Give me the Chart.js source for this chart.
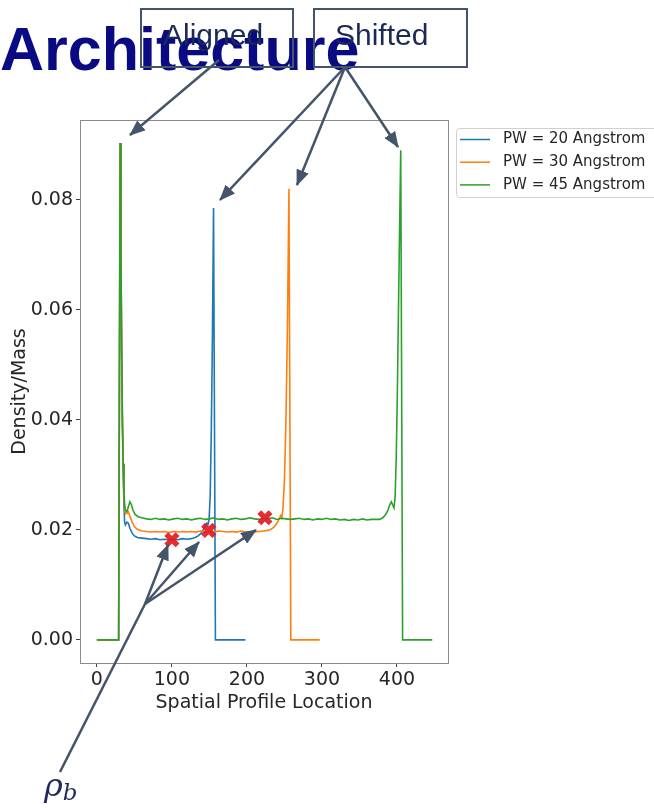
<!DOCTYPE html>
<html>
<head>
<meta charset="utf-8">
<script src="https://cdn.jsdelivr.net/npm/chart.js@4/dist/chart.umd.min.js"></script>
<style>
  html, body { margin: 0; padding: 0; background: #fff; overflow: hidden; }
  #wrap { position: relative; width: 654px; height: 808px; }
  #c { position: absolute; left: 0; top: 0; }
  #ov { position: absolute; left: 0; top: 0; pointer-events: none; }
</style>
</head>
<body>
<div id="wrap">
<canvas id="c" width="654" height="808"></canvas>
<svg id="ov" width="654" height="808" xmlns="http://www.w3.org/2000/svg">
  <defs>
    <marker id="ah" viewBox="0 0 16 13" refX="15" refY="6.5" markerWidth="16" markerHeight="13" markerUnits="userSpaceOnUse" orient="auto">
      <path d="M0,0 L16,6.5 L0,13 z" fill="#44546a"/>
    </marker>
  </defs>
  <text x="0" y="70" font-family="Liberation Sans, Arial, sans-serif" font-weight="bold" font-size="61" fill="#0a0a82">Architecture</text>
  <rect x="141" y="9" width="152" height="58" fill="none" stroke="#44546a" stroke-width="2"/>
  <rect x="314" y="9" width="153" height="58" fill="none" stroke="#44546a" stroke-width="2"/>
  <text x="163" y="45" font-family="Liberation Sans, Arial, sans-serif" font-size="30" fill="#1b2a55">Aligned</text>
  <text x="335" y="45" font-family="Liberation Sans, Arial, sans-serif" font-size="30" fill="#1b2a55">Shifted</text>
  <g stroke="#44546a" stroke-width="2.5" fill="none">
    <line x1="219" y1="60" x2="130" y2="135" marker-end="url(#ah)"/>
    <line x1="345" y1="67" x2="220" y2="200" marker-end="url(#ah)"/>
    <line x1="345" y1="67" x2="297" y2="185" marker-end="url(#ah)"/>
    <line x1="345" y1="67" x2="398" y2="147" marker-end="url(#ah)"/>
    <line x1="60" y1="772" x2="145" y2="604"/>
    <line x1="145" y1="604" x2="168" y2="545" marker-end="url(#ah)"/>
    <line x1="145" y1="604" x2="199" y2="542" marker-end="url(#ah)"/>
    <line x1="145" y1="604" x2="256" y2="530" marker-end="url(#ah)"/>
  </g>
  <text x="44" y="796" font-family="DejaVu Serif, serif" font-style="italic" font-size="32" fill="#1e2a5e">ρ<tspan font-size="23" dy="4">b</tspan></text>
</svg>
</div>
<script>
// ---- Data ----
const seriesLabels = ["PW = 20 Angstrom", "PW = 30 Angstrom", "PW = 45 Angstrom"];

const pw20X = [0, 29, 31, 32, 33, 34, 35, 36, 37, 38, 40, 42, 44, 47, 50, 54, 60, 66, 72, 78, 84, 90, 96, 102, 108, 114, 120, 126, 131, 135, 139, 142, 144.5, 146.5, 148, 149.5, 151, 152.5, 154, 155.5, 158, 198];
const pw20Y = [0, 0, 0.0903, 0.072, 0.053, 0.040, 0.032, 0.0245, 0.0214, 0.0209, 0.0214, 0.0212, 0.0203, 0.0194, 0.0189, 0.0186, 0.0185, 0.0184, 0.0183, 0.0184, 0.0182, 0.0183, 0.0182, 0.0183, 0.0182, 0.0184, 0.0183, 0.0184, 0.0186, 0.0189, 0.0194, 0.0201, 0.0208, 0.0212, 0.0209, 0.0218, 0.026, 0.038, 0.055, 0.0785, 0, 0];

const pw30X = [0, 29, 31, 32, 33, 34, 35, 36, 37, 38, 40, 42, 44, 47, 50, 54, 60, 66, 72, 78, 84, 90, 96, 102, 108, 114, 120, 126, 132, 138, 144, 150, 156, 162, 168, 174, 180, 186, 192, 198, 204, 210, 216, 222, 228, 232, 236, 240, 243, 245, 246.5, 248, 250, 252, 254, 256, 258.5, 297];
const pw30Y = [0, 0, 0.0903, 0.072, 0.053, 0.040, 0.032, 0.0262, 0.0238, 0.0229, 0.0230, 0.0233, 0.0225, 0.0214, 0.0206, 0.0201, 0.0198, 0.0197, 0.0196, 0.0197, 0.0196, 0.0197, 0.0195, 0.0197, 0.0196, 0.0197, 0.0196, 0.0197, 0.0196, 0.0198, 0.0196, 0.0197, 0.0196, 0.0198, 0.0197, 0.0196, 0.0197, 0.0196, 0.0198, 0.0196, 0.0197, 0.0196, 0.0197, 0.0198, 0.0199, 0.0201, 0.0205, 0.0212, 0.0220, 0.0226, 0.0222, 0.0238, 0.029, 0.040, 0.057, 0.082, 0, 0];

const pw45X = [0, 29, 31, 32, 33, 34, 35, 36, 37, 38, 40, 42, 44, 46, 48, 51, 55, 60, 66, 72, 78, 84, 90, 96, 102, 108, 114, 120, 126, 132, 138, 144, 150, 156, 162, 168, 174, 180, 186, 192, 198, 204, 210, 216, 222, 228, 234, 240, 246, 252, 258, 264, 270, 276, 282, 288, 294, 300, 306, 312, 318, 324, 330, 336, 342, 348, 354, 360, 366, 372, 377, 381, 385, 388, 390.5, 392.5, 394, 396, 397.5, 399, 400.5, 402, 403.5, 405, 407.5, 447];
const pw45Y = [0, 0, 0.0903, 0.072, 0.053, 0.040, 0.032, 0.027, 0.0245, 0.0236, 0.0233, 0.0242, 0.0251, 0.0246, 0.0236, 0.0228, 0.0224, 0.0222, 0.0220, 0.0219, 0.0221, 0.0219, 0.0220, 0.0218, 0.0220, 0.0221, 0.0219, 0.0220, 0.0218, 0.0220, 0.0221, 0.0219, 0.0220, 0.0222, 0.0219, 0.0220, 0.0218, 0.0220, 0.0221, 0.0219, 0.0220, 0.0222, 0.0220, 0.0219, 0.0221, 0.0220, 0.0222, 0.0219, 0.0221, 0.0220, 0.0219, 0.0220, 0.0221, 0.0219, 0.0220, 0.0218, 0.0220, 0.0219, 0.0221, 0.0219, 0.0220, 0.0218, 0.0219, 0.0217, 0.0219, 0.0218, 0.0220, 0.0218, 0.0219, 0.0219, 0.0219, 0.0222, 0.0228, 0.0236, 0.0246, 0.0251, 0.0246, 0.0240, 0.0260, 0.033, 0.045, 0.060, 0.075, 0.089, 0, 0];

// bulk density markers
const rhoBX = [100, 149, 224];
const rhoBY = [0.0182, 0.0199, 0.0222];

const xTickValues = [0, 100, 200, 300, 400];
const yTickValues = [0, 0.02, 0.04, 0.06, 0.08];

// ---- Build ----
const pts = (xs, ys) => xs.map((x, i) => ({ x: x, y: ys[i] }));
const colors = ['#1f77b4', '#ff7f0e', '#2ca02c'];

const frame = {
  id: 'frame',
  afterDraw(chart) {
    const { ctx, chartArea: a } = chart;
    ctx.save();
    ctx.strokeStyle = '#8a8a8a';
    ctx.lineWidth = 1;
    ctx.strokeRect(Math.round(a.left) + 0.5, Math.round(a.top) + 0.5, Math.round(a.right - a.left), Math.round(a.bottom - a.top));
    // legend
    const lx = 456, ly = 128, lw = 210, lh = 69;
    ctx.fillStyle = 'rgba(255,255,255,0.8)';
    ctx.strokeStyle = '#d0d0d0';
    ctx.beginPath();
    if (ctx.roundRect) ctx.roundRect(lx + 0.5, ly + 0.5, lw, lh, 3); else ctx.rect(lx + 0.5, ly + 0.5, lw, lh);
    ctx.fill(); ctx.stroke();
    ctx.font = '15px "DejaVu Sans"';
    ctx.textBaseline = 'middle';
    ctx.textAlign = 'left';
    chart.data.datasets.slice(0, 3).forEach((ds, i) => {
      const y = 139.5 + i * 22.7;
      ctx.strokeStyle = ds.borderColor;
      ctx.lineWidth = 1.5;
      ctx.beginPath(); ctx.moveTo(460, y); ctx.lineTo(490, y); ctx.stroke();
      ctx.fillStyle = '#262626';
      ctx.fillText(ds.label, 503, y);
    });
    ctx.restore();
  }
};

const lineDs = (label, xs, ys, color, order) => ({
  label: label, data: pts(xs, ys), borderColor: color, backgroundColor: color,
  borderWidth: 1.6, pointRadius: 0, tension: 0, fill: false, order: order
});

new Chart(document.getElementById('c'), {
  type: 'line',
  data: {
    datasets: [
      lineDs(seriesLabels[0], pw20X, pw20Y, colors[0], 3),
      lineDs(seriesLabels[1], pw30X, pw30Y, colors[1], 2),
      lineDs(seriesLabels[2], pw45X, pw45Y, colors[2], 1),
      {
        label: 'rho_b', data: pts(rhoBX, rhoBY), showLine: false,
        pointStyle: 'crossRot', pointRadius: 8, pointBorderWidth: 5.5,
        pointBorderColor: 'rgba(226,26,34,0.92)', borderColor: 'rgba(226,26,34,0.92)',
        pointBackgroundColor: 'rgba(226,26,34,0.92)', order: 0
      }
    ]
  },
  options: {
    responsive: false, animation: false, devicePixelRatio: 1,
    layout: { padding: { left: 0, top: 120, right: 206, bottom: 90 } },
    plugins: { legend: { display: false }, tooltip: { enabled: false }, title: { display: false } },
    scales: {
      x: {
        type: 'linear', min: -22.5, max: 468,
        afterFit: s => { s.height = 55; },
        afterBuildTicks: s => { s.ticks = xTickValues.map(v => ({ value: v })); },
        ticks: { font: { family: 'DejaVu Sans', size: 19 }, color: '#262626', padding: 2, maxRotation: 0, autoSkip: false, callback: v => String(v) },
        grid: { drawOnChartArea: false, drawTicks: true, tickLength: 4, color: '#444' },
        border: { display: false },
        title: { display: true, text: 'Spatial Profile Location', font: { family: 'DejaVu Sans', size: 19 }, color: '#262626', padding: { top: 0, bottom: 4 } }
      },
      y: {
        type: 'linear', min: -0.0042, max: 0.0945,
        afterFit: s => { s.width = 80; },
        afterBuildTicks: s => { s.ticks = yTickValues.map(v => ({ value: v })); },
        ticks: { font: { family: 'DejaVu Sans', size: 19 }, color: '#262626', padding: 3, autoSkip: false, callback: v => Number(v).toFixed(2) },
        grid: { drawOnChartArea: false, drawTicks: true, tickLength: 4, color: '#444' },
        border: { display: false },
        title: { display: true, text: 'Density/Mass', font: { family: 'DejaVu Sans', size: 19 }, color: '#262626', padding: { top: 9, bottom: 0 } }
      }
    }
  },
  plugins: [frame]
});
</script>
</body>
</html>
